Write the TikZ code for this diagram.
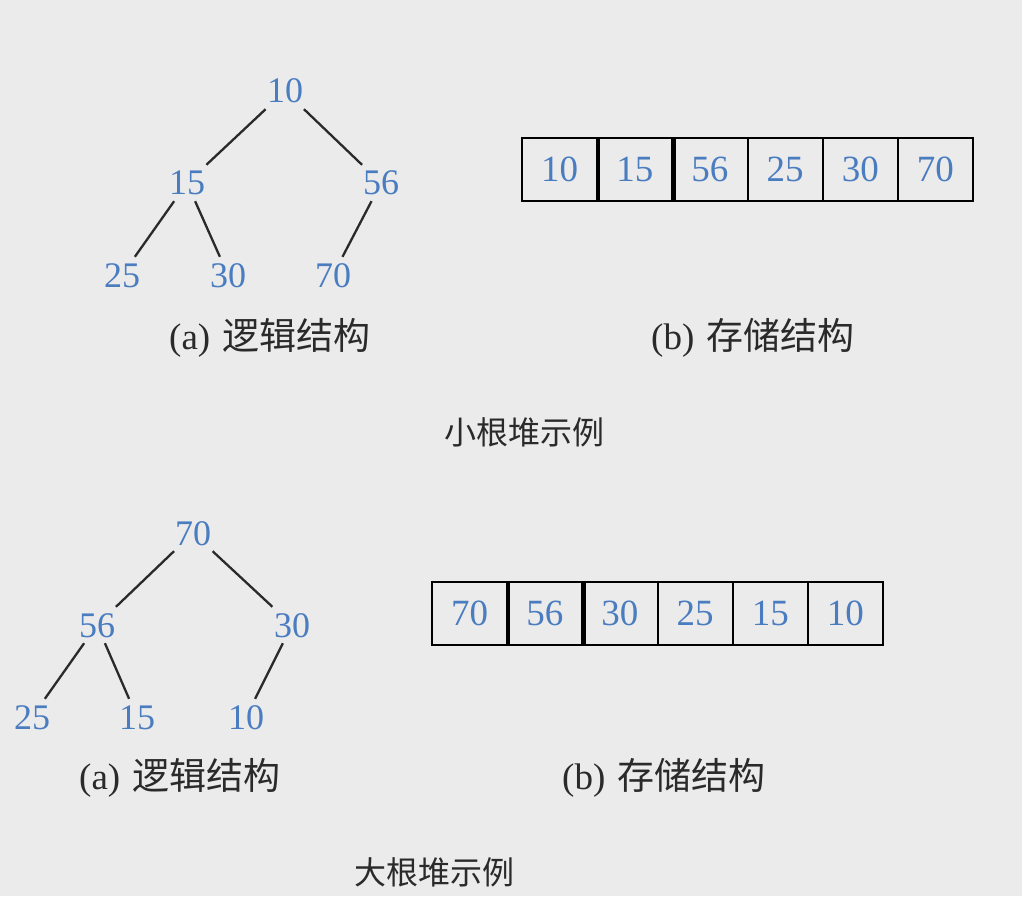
\documentclass[tikz,border=0pt]{standalone}
\usepackage{fontspec}
\setmainfont{Liberation Serif}
\newfontfamily\cjk{Noto Sans CJK SC}
\definecolor{bg}{HTML}{EBEBEB}
\definecolor{numc}{HTML}{4A7CC0}
\definecolor{ink}{HTML}{2A2A2A}
\tikzset{
  treenum/.style={text=numc, font=\fontsize{36}{36}\selectfont, inner sep=0pt,
    minimum width=40pt, minimum height=36pt, text height=24pt, text depth=0pt},
  treeedge/.style={draw=ink, line width=2.3pt},
  cell/.style={draw=black, line width=2pt, minimum width=75.2pt, minimum height=63pt,
    inner sep=0pt, text=numc, font=\fontsize{37}{37}\selectfont, text height=25pt, text depth=0pt},
  thickdiv/.style={draw=black, line width=4.5pt},
  sublabel/.style={text=ink, font=\fontsize{37}{37}\selectfont, inner sep=0pt, anchor=west},
  caption/.style={text=ink, font=\cjk\fontsize{32}{32}\selectfont, inner sep=0pt}
}
\begin{document}
\begin{tikzpicture}[x=1pt, y=-1pt]
\fill[white] (0,0) rectangle (1022,904);
\fill[bg] (0,0) rectangle (1022,896);
\useasboundingbox (0,0) rectangle (1022,904);

% ---------- small-root heap ----------
\node[treenum] (a10) at (285,91) {10};
\node[treenum] (a15) at (187,183) {15};
\node[treenum] (a56) at (381,183) {56};
\node[treenum] (a25) at (122,275) {25};
\node[treenum] (a30) at (228,275) {30};
\node[treenum] (a70) at (333,275) {70};
\draw[treeedge] (a10) -- (a15);
\draw[treeedge] (a10) -- (a56);
\draw[treeedge] (a15) -- (a25);
\draw[treeedge] (a15) -- (a30);
\draw[treeedge] (a56) -- (a70);

\foreach \v [count=\i] in {10,15,56,25,30,70}{
  \node[cell] (ac\i) at ({522+75.17*(\i-0.5)},169.5) {\v};
}
\draw[thickdiv] (ac1.north east) -- (ac1.south east);
\draw[thickdiv] (ac2.north east) -- (ac2.south east);

\node[sublabel] (al) at (169,338) {(a)\hspace{12pt}\cjk 逻辑结构};
\node[sublabel] (bl) at (651,338) {(b)\hspace{12pt}\cjk 存储结构};
\node[caption] (cap1) at (524,432) {小根堆示例};

% ---------- big-root heap ----------
\node[treenum] (b70) at (193,533) {70};
\node[treenum] (b56) at (97,625) {56};
\node[treenum] (b30) at (292,625) {30};
\node[treenum] (b25) at (32,717) {25};
\node[treenum] (b15) at (137,717) {15};
\node[treenum] (b10) at (246,717) {10};
\draw[treeedge] (b70) -- (b56);
\draw[treeedge] (b70) -- (b30);
\draw[treeedge] (b56) -- (b25);
\draw[treeedge] (b56) -- (b15);
\draw[treeedge] (b30) -- (b10);

\foreach \v [count=\i] in {70,56,30,25,15,10}{
  \node[cell] (bc\i) at ({432+75.17*(\i-0.5)},613) {\v};
}
\draw[thickdiv] (bc1.north east) -- (bc1.south east);
\draw[thickdiv] (bc2.north east) -- (bc2.south east);

\node[sublabel] (al2) at (79,778) {(a)\hspace{12pt}\cjk 逻辑结构};
\node[sublabel] (bl2) at (562,778) {(b)\hspace{12pt}\cjk 存储结构};
\node[caption] (cap2) at (434,872) {大根堆示例};
\end{tikzpicture}
\end{document}
